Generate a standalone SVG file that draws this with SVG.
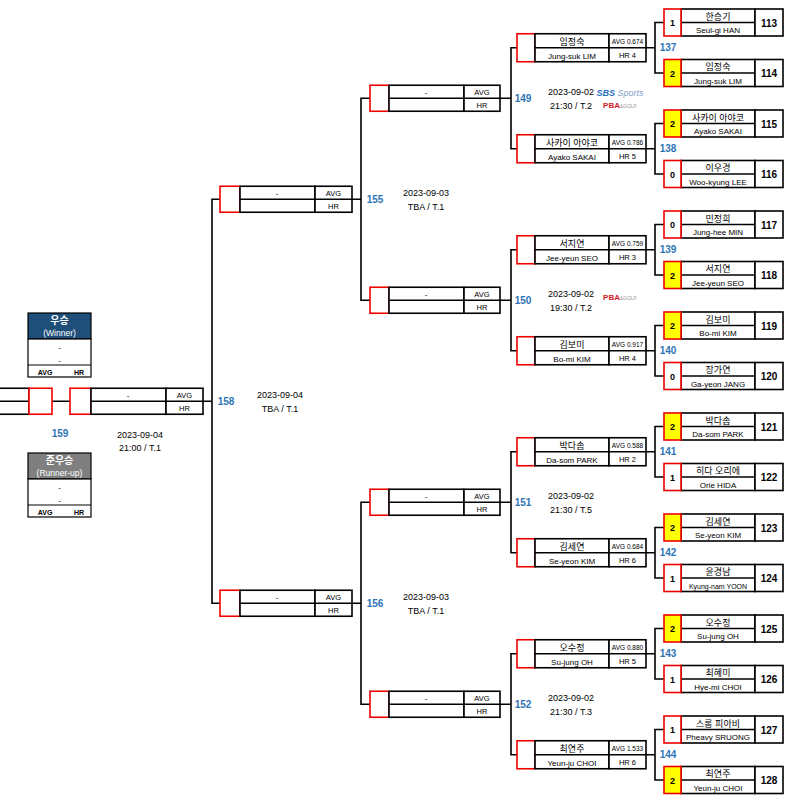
<svg xmlns="http://www.w3.org/2000/svg" width="800" height="800" viewBox="0 0 800 800">
<style>
text{font-family:"Liberation Sans","Noto Sans CJK KR",sans-serif;text-anchor:middle;fill:#000}
.b{fill:#fff;stroke:#000;stroke-width:1.6}
.sc{fill:#fff;stroke:#e00;stroke-width:1.6}
.y{fill:#ffff00}
.l{stroke:#000;stroke-width:1.6;fill:none}
.k{font-size:9px}.e{font-size:8px}.s{font-size:9px;font-weight:bold}.n{font-size:10px;font-weight:bold}
.a{font-size:6.5px}.h{font-size:7.5px}.d{font-size:9px}
.m{font-size:10px;font-weight:bold;fill:#2e75b6}
</style>
<defs>
<g id="r1"><rect class="b" x="17" y="0" width="74" height="27"/><path class="l" d="M17 13.5H91"/><rect class="b" x="91" y="0" width="28" height="27"/></g>
<g id="r2"><rect class="sc" x="0" y="0" width="18" height="28"/><rect class="b" x="18" y="0" width="74" height="28"/><rect class="b" x="92" y="0" width="37" height="28"/><path class="l" d="M18 14H129"/></g>
</defs>
<g id="connectors" class="l">
<path class="l" d="M664 22.5H655V73H664M646 47.75H655M664 123.5H655V174H664M646 148.75H655M664 224.5H655V275H664M646 249.75H655M664 325.5H655V376H664M646 350.75H655M664 426.5H655V477H664M646 451.75H655M664 527.5H655V578H664M646 552.75H655M664 628.5H655V679H664M646 653.75H655M664 729.5H655V780H664M646 754.75H655"/>
<path class="l" d="M517 47.75H511V148.75H517M500 98.25H511M517 249.75H511V350.75H517M500 300.25H511M517 451.75H511V552.75H517M500 502.25H511M517 653.75H511V754.75H517M500 704.25H511"/>
<path class="l" d="M370 98.25H361V300.25H370M352 199.25H361M370 502.25H361V704.25H370M352 603.25H361"/>
<path class="l" d="M220 199.25H212V603.25H220M203 401.25H212M52 401.25H70"/>
</g>
<!-- Round 1 -->
<g id="m113" transform="translate(664,9)"><use href="#r1"/><rect class="sc" width="17" height="27"/><text class="s" x="8.5" y="17">1</text><text class="k" x="54" y="10.5">한승기</text><text class="e" x="54" y="24">Seul-gi HAN</text><text class="n" x="105" y="17.5">113</text></g>
<g id="m114" transform="translate(664,59.5)"><use href="#r1"/><rect class="sc y" width="17" height="27"/><text class="s" x="8.5" y="17">2</text><text class="k" x="54" y="10.5">임정숙</text><text class="e" x="54" y="24">Jung-suk LIM</text><text class="n" x="105" y="17.5">114</text></g>
<g id="m115" transform="translate(664,110)"><use href="#r1"/><rect class="sc y" width="17" height="27"/><text class="s" x="8.5" y="17">2</text><text class="k" x="54" y="10.5">사카이 아야코</text><text class="e" x="54" y="24">Ayako SAKAI</text><text class="n" x="105" y="17.5">115</text></g>
<g id="m116" transform="translate(664,160.5)"><use href="#r1"/><rect class="sc" width="17" height="27"/><text class="s" x="8.5" y="17">0</text><text class="k" x="54" y="10.5">이우경</text><text class="e" x="54" y="24">Woo-kyung LEE</text><text class="n" x="105" y="17.5">116</text></g>
<g id="m117" transform="translate(664,211)"><use href="#r1"/><rect class="sc" width="17" height="27"/><text class="s" x="8.5" y="17">0</text><text class="k" x="54" y="10.5">민정희</text><text class="e" x="54" y="24">Jung-hee MIN</text><text class="n" x="105" y="17.5">117</text></g>
<g id="m118" transform="translate(664,261.5)"><use href="#r1"/><rect class="sc y" width="17" height="27"/><text class="s" x="8.5" y="17">2</text><text class="k" x="54" y="10.5">서지연</text><text class="e" x="54" y="24">Jee-yeun SEO</text><text class="n" x="105" y="17.5">118</text></g>
<g id="m119" transform="translate(664,312)"><use href="#r1"/><rect class="sc y" width="17" height="27"/><text class="s" x="8.5" y="17">2</text><text class="k" x="54" y="10.5">김보미</text><text class="e" x="54" y="24">Bo-mi KIM</text><text class="n" x="105" y="17.5">119</text></g>
<g id="m120" transform="translate(664,362.5)"><use href="#r1"/><rect class="sc" width="17" height="27"/><text class="s" x="8.5" y="17">0</text><text class="k" x="54" y="10.5">장가연</text><text class="e" x="54" y="24">Ga-yeon JANG</text><text class="n" x="105" y="17.5">120</text></g>
<g id="m121" transform="translate(664,413)"><use href="#r1"/><rect class="sc y" width="17" height="27"/><text class="s" x="8.5" y="17">2</text><text class="k" x="54" y="10.5">박다솜</text><text class="e" x="54" y="24">Da-som PARK</text><text class="n" x="105" y="17.5">121</text></g>
<g id="m122" transform="translate(664,463.5)"><use href="#r1"/><rect class="sc" width="17" height="27"/><text class="s" x="8.5" y="17">1</text><text class="k" x="54" y="10.5">히다 오리에</text><text class="e" x="54" y="24">Orie HIDA</text><text class="n" x="105" y="17.5">122</text></g>
<g id="m123" transform="translate(664,514)"><use href="#r1"/><rect class="sc y" width="17" height="27"/><text class="s" x="8.5" y="17">2</text><text class="k" x="54" y="10.5">김세연</text><text class="e" x="54" y="24">Se-yeon KIM</text><text class="n" x="105" y="17.5">123</text></g>
<g id="m124" transform="translate(664,564.5)"><use href="#r1"/><rect class="sc" width="17" height="27"/><text class="s" x="8.5" y="17">1</text><text class="k" x="54" y="10.5">윤경남</text><text class="e" x="54" y="24" style="font-size:7px">Kyung-nam YOON</text><text class="n" x="105" y="17.5">124</text></g>
<g id="m125" transform="translate(664,615)"><use href="#r1"/><rect class="sc y" width="17" height="27"/><text class="s" x="8.5" y="17">2</text><text class="k" x="54" y="10.5">오수정</text><text class="e" x="54" y="24">Su-jung OH</text><text class="n" x="105" y="17.5">125</text></g>
<g id="m126" transform="translate(664,665.5)"><use href="#r1"/><rect class="sc" width="17" height="27"/><text class="s" x="8.5" y="17">1</text><text class="k" x="54" y="10.5">최혜미</text><text class="e" x="54" y="24">Hye-mi CHOI</text><text class="n" x="105" y="17.5">126</text></g>
<g id="m127" transform="translate(664,716)"><use href="#r1"/><rect class="sc" width="17" height="27"/><text class="s" x="8.5" y="17">1</text><text class="k" x="54" y="10.5">스롱 피아비</text><text class="e" x="54" y="24">Pheavy SRUONG</text><text class="n" x="105" y="17.5">127</text></g>
<g id="m128" transform="translate(664,766.5)"><use href="#r1"/><rect class="sc y" width="17" height="27"/><text class="s" x="8.5" y="17">2</text><text class="k" x="54" y="10.5">최연주</text><text class="e" x="54" y="24">Yeun-ju CHOI</text><text class="n" x="105" y="17.5">128</text></g>
<!-- Round 2 -->
<g id="m137" transform="translate(517,33.75)"><use href="#r2"/><text class="k" x="55" y="11">임정숙</text><text class="e" x="55" y="25">Jung-suk LIM</text><text class="a" x="110.5" y="10">AVG 0.674</text><text class="h" x="110.5" y="24">HR 4</text><text class="m" x="151" y="17.5">137</text></g>
<g id="m138" transform="translate(517,134.75)"><use href="#r2"/><text class="k" x="55" y="11">사카이 아야코</text><text class="e" x="55" y="25">Ayako SAKAI</text><text class="a" x="110.5" y="10">AVG 0.786</text><text class="h" x="110.5" y="24">HR 5</text><text class="m" x="151" y="17.5">138</text></g>
<g id="m139" transform="translate(517,235.75)"><use href="#r2"/><text class="k" x="55" y="11">서지연</text><text class="e" x="55" y="25">Jee-yeun SEO</text><text class="a" x="110.5" y="10">AVG 0.759</text><text class="h" x="110.5" y="24">HR 3</text><text class="m" x="151" y="17.5">139</text></g>
<g id="m140" transform="translate(517,336.75)"><use href="#r2"/><text class="k" x="55" y="11">김보미</text><text class="e" x="55" y="25">Bo-mi KIM</text><text class="a" x="110.5" y="10">AVG 0.917</text><text class="h" x="110.5" y="24">HR 4</text><text class="m" x="151" y="17.5">140</text></g>
<g id="m141" transform="translate(517,437.75)"><use href="#r2"/><text class="k" x="55" y="11">박다솜</text><text class="e" x="55" y="25">Da-som PARK</text><text class="a" x="110.5" y="10">AVG 0.588</text><text class="h" x="110.5" y="24">HR 2</text><text class="m" x="151" y="17.5">141</text></g>
<g id="m142" transform="translate(517,538.75)"><use href="#r2"/><text class="k" x="55" y="11">김세연</text><text class="e" x="55" y="25">Se-yeon KIM</text><text class="a" x="110.5" y="10">AVG 0.684</text><text class="h" x="110.5" y="24">HR 6</text><text class="m" x="151" y="17.5">142</text></g>
<g id="m143" transform="translate(517,639.75)"><use href="#r2"/><text class="k" x="55" y="11">오수정</text><text class="e" x="55" y="25">Su-jung OH</text><text class="a" x="110.5" y="10">AVG 0.880</text><text class="h" x="110.5" y="24">HR 5</text><text class="m" x="151" y="17.5">143</text></g>
<g id="m144" transform="translate(517,740.75)"><use href="#r2"/><text class="k" x="55" y="11">최연주</text><text class="e" x="55" y="25">Yeun-ju CHOI</text><text class="a" x="110.5" y="10">AVG 1.533</text><text class="h" x="110.5" y="24">HR 6</text><text class="m" x="151" y="17.5">144</text></g>
<!-- Round 3 -->
<g id="m149" transform="translate(370,85.25)"><rect class="sc" width="19" height="26"/><rect class="b" x="19" width="75" height="26"/><rect class="b" x="94" width="36" height="26"/><path class="l" d="M19 13H130"/><text class="e" x="56" y="10">-</text><text class="h" x="112" y="10">AVG</text><text class="h" x="112" y="23">HR</text><text class="m" x="153" y="17">149</text><text class="d" x="201" y="10">2023-09-02</text><text class="d" x="201" y="24">21:30 / T.2</text><text x="250" y="11" style="font-size:9px;font-weight:bold;font-style:italic;fill:#1f6fc8">SBS <tspan fill="#7f9fc8" font-weight="normal">Sports</tspan></text><text x="250" y="23" style="font-size:8px;font-weight:bold;fill:#d0202a">PBA<tspan style="font-size:5px;fill:#999;font-weight:normal">&amp;GOLF</tspan></text></g>
<g id="m150" transform="translate(370,287.25)"><rect class="sc" width="19" height="26"/><rect class="b" x="19" width="75" height="26"/><rect class="b" x="94" width="36" height="26"/><path class="l" d="M19 13H130"/><text class="e" x="56" y="10">-</text><text class="h" x="112" y="10">AVG</text><text class="h" x="112" y="23">HR</text><text class="m" x="153" y="17">150</text><text class="d" x="201" y="10">2023-09-02</text><text class="d" x="201" y="24">19:30 / T.2</text><text x="250" y="13" style="font-size:8px;font-weight:bold;fill:#d0202a">PBA<tspan style="font-size:5px;fill:#999;font-weight:normal">&amp;GOLF</tspan></text></g>
<g id="m151" transform="translate(370,489.25)"><rect class="sc" width="19" height="26"/><rect class="b" x="19" width="75" height="26"/><rect class="b" x="94" width="36" height="26"/><path class="l" d="M19 13H130"/><text class="e" x="56" y="10">-</text><text class="h" x="112" y="10">AVG</text><text class="h" x="112" y="23">HR</text><text class="m" x="153" y="17">151</text><text class="d" x="201" y="10">2023-09-02</text><text class="d" x="201" y="24">21:30 / T.5</text></g>
<g id="m152" transform="translate(370,691.25)"><rect class="sc" width="19" height="26"/><rect class="b" x="19" width="75" height="26"/><rect class="b" x="94" width="36" height="26"/><path class="l" d="M19 13H130"/><text class="e" x="56" y="10">-</text><text class="h" x="112" y="10">AVG</text><text class="h" x="112" y="23">HR</text><text class="m" x="153" y="17">152</text><text class="d" x="201" y="10">2023-09-02</text><text class="d" x="201" y="24">21:30 / T.3</text></g>
<!-- Round 4 -->
<g id="m155" transform="translate(220,186.25)"><rect class="sc" width="20" height="26"/><rect class="b" x="20" width="75" height="26"/><rect class="b" x="95" width="37" height="26"/><path class="l" d="M20 13H132"/><text class="e" x="57" y="10">-</text><text class="h" x="113.5" y="10">AVG</text><text class="h" x="113.5" y="23">HR</text><text class="m" x="155" y="17">155</text><text class="d" x="206" y="10">2023-09-03</text><text class="d" x="206" y="24">TBA / T.1</text></g>
<g id="m156" transform="translate(220,590.25)"><rect class="sc" width="20" height="26"/><rect class="b" x="20" width="75" height="26"/><rect class="b" x="95" width="37" height="26"/><path class="l" d="M20 13H132"/><text class="e" x="57" y="10">-</text><text class="h" x="113.5" y="10">AVG</text><text class="h" x="113.5" y="23">HR</text><text class="m" x="155" y="17">156</text><text class="d" x="206" y="10">2023-09-03</text><text class="d" x="206" y="24">TBA / T.1</text></g>
<!-- Round 5 -->
<g id="m158" transform="translate(70,388.25)"><rect class="sc" width="21" height="26"/><rect class="b" x="21" width="75" height="26"/><rect class="b" x="96" width="37" height="26"/><path class="l" d="M21 13H133"/><text class="e" x="58" y="10">-</text><text class="h" x="114.5" y="10">AVG</text><text class="h" x="114.5" y="23">HR</text><text class="m" x="156" y="17">158</text><text class="d" x="210" y="10">2023-09-04</text><text class="d" x="210" y="24">TBA / T.1</text></g>
<!-- Final -->
<g id="m159" transform="translate(0,388.25)"><rect class="b" x="-5" width="34" height="26"/><path class="l" d="M-5 13H29"/><rect class="sc" x="29" width="23" height="26"/><text class="m" x="60" y="49">159</text><text class="d" x="140" y="50">2023-09-04</text><text class="d" x="140" y="63">21:00 / T.1</text></g>
<g id="winner" transform="translate(28,313)"><rect x="0" y="0" width="63" height="26" fill="#1f4e79" stroke="#000" stroke-width="1.2"/><text x="31.5" y="11" style="font-size:10px;font-weight:bold;fill:#fff">우승</text><text x="31.5" y="22.5" style="font-size:8.5px;fill:#fff">(Winner)</text><rect class="b" y="26" width="63" height="38" style="stroke-width:1.2"/><path class="l" d="M0 52H63" style="stroke-width:1"/><text class="e" x="31.5" y="37">-</text><text class="e" x="31.5" y="50">-</text><text x="17" y="61.5" style="font-size:7px;font-weight:bold">AVG</text><text x="51" y="62" style="font-size:7px;font-weight:bold">HR</text></g>
<g id="runnerup" transform="translate(28,453)"><rect x="0" y="0" width="63" height="26" fill="#7f7f7f" stroke="#000" stroke-width="1.2"/><text x="31.5" y="11" style="font-size:10px;font-weight:bold;fill:#fff">준우승</text><text x="31.5" y="22.5" style="font-size:8.5px;fill:#fff">(Runner-up)</text><rect class="b" y="26" width="63" height="38" style="stroke-width:1.2"/><path class="l" d="M0 52H63" style="stroke-width:1"/><text class="e" x="31.5" y="37">-</text><text class="e" x="31.5" y="50">-</text><text x="17" y="61.5" style="font-size:7px;font-weight:bold">AVG</text><text x="51" y="62" style="font-size:7px;font-weight:bold">HR</text></g>
</svg>
